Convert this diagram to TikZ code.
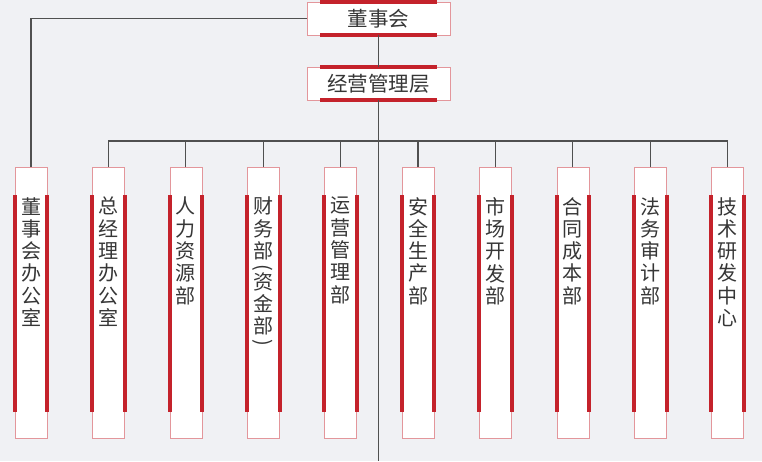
\documentclass[tikz,border=0pt]{standalone}
\usepackage{fontspec}
\usepackage{graphicx}
\setmainfont{Noto Sans CJK SC}
\usetikzlibrary{positioning}
\definecolor{hgrund}{HTML}{F0F1F4}
\definecolor{rot}{HTML}{C4222B}
\definecolor{rahmen}{HTML}{E3969B}
\definecolor{linie}{HTML}{505050}
\definecolor{schrift}{HTML}{363636}
\newcommand\quer[1]{\rotatebox[origin=c]{-90}{#1}}
\tikzset{
  kopf/.style={draw=rahmen,fill=white,line width=0.6pt,minimum width=143pt,minimum height=33pt,inner sep=0pt,text=schrift,font=\fontsize{20.5}{22}\selectfont},
  abt/.style={draw=rahmen,fill=white,line width=0.6pt,minimum width=32pt,minimum height=271pt,inner sep=0pt,anchor=north},
  abttext/.style={text=schrift,align=center,inner sep=0pt,anchor=north,font=\fontsize{20}{22.3}\selectfont},
  balken/.style={fill=rot},
  verb/.style={linie,line width=1.1pt},
}
\begin{document}
\begin{tikzpicture}[x=1pt,y=1pt]
  \fill[hgrund] (0,0) rectangle (762,-461);
  \useasboundingbox (0,0) rectangle (762,-461);
  \coordinate (bus) at (0,-141);
  \coordinate (stammende) at (378.5,-461);
  % Leitung
  \node[kopf] (dsh) at (378.5,-18.5) {董事会};
  \node[kopf] (jygl) at (378.5,-83.5) {经营管理层};
  \foreach \k in {dsh,jygl}{
    \fill[balken] ([xshift=13pt,yshift=2pt]\k.north west) rectangle ([xshift=-13pt,yshift=-2pt]\k.north east);
    \fill[balken] ([xshift=13pt,yshift=2pt]\k.south west) rectangle ([xshift=-13pt,yshift=-2pt]\k.south east);
  }
  % Abteilungen
  \foreach \i/\x/\txt in {1/31/{董\\事\\会\\办\\公\\室},2/108.4/{总\\经\\理\\办\\公\\室},
      3/185.8/{人\\力\\资\\源\\部},4/263.2/{财\\务\\部\\[-7pt]\quer{(}\\[-7pt]资\\金\\部\\[-7pt]\quer{)}},
      5/340.6/{运\\营\\管\\理\\部},6/418/{安\\全\\生\\产\\部},7/495.4/{市\\场\\开\\发\\部},
      8/572.8/{合\\同\\成\\本\\部},9/650.2/{法\\务\\审\\计\\部},10/727.6/{技\\术\\研\\发\\中\\心}}{
    \node[abt] (a\i) at (\x,-167) {};
    \fill[balken] ([xshift=-2pt,yshift=-28pt]a\i.north west) rectangle ([xshift=2pt,yshift=27pt]a\i.south west);
    \fill[balken] ([xshift=-2pt,yshift=-28pt]a\i.north east) rectangle ([xshift=2pt,yshift=27pt]a\i.south east);
    \node[abttext,below=30pt of a\i.north] (t\i) {\txt};
  }
  % Verbindungen
  \draw[verb] (dsh) -- (jygl);
  \draw[verb] (jygl) -- (stammende);
  \draw[verb] (dsh.west) -| (a1.north);
  \draw[verb] (a2.north |- bus) -- (a10.north |- bus);
  \foreach \i in {2,...,10}
    \draw[verb] (a\i.north) -- (a\i.north |- bus);
\end{tikzpicture}
\end{document}
